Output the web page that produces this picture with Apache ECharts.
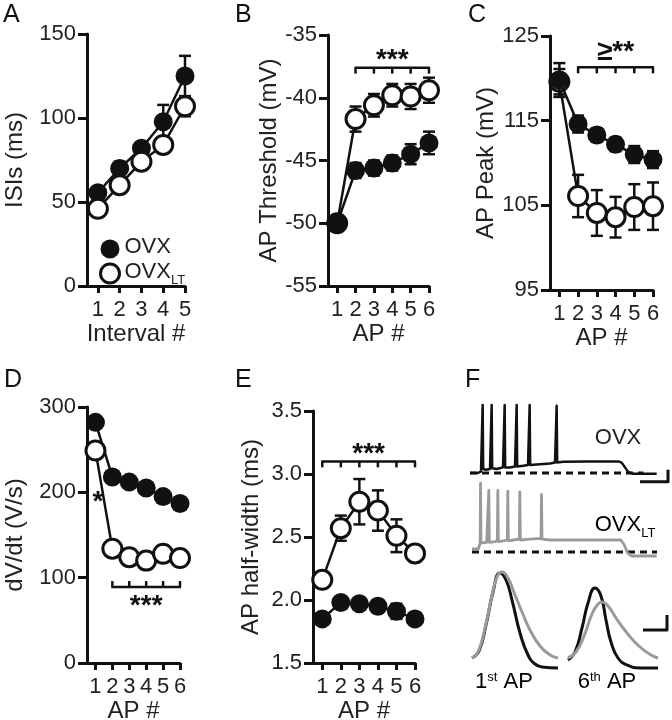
<!DOCTYPE html>
<html>
<head>
<meta charset="utf-8">
<script src="https://cdn.jsdelivr.net/npm/echarts@6/dist/echarts.min.js"></script>
<style>
  html, body { margin: 0; padding: 0; background: #fff; }
  #fig { width: 672px; height: 720px; }
</style>
</head>
<body>
<div id="fig"></div>
<script>
// ---- data ----
// A: inter-spike intervals (ms)
var isiOvx = [55.5, 70, 82, 97.8, 125];
var isiOvxSem = [3, 4, 3, 10, 12];
var isiLt = [46, 60, 74, 84, 107];
var isiLtSem = [2, 2, 2, 3, 6];
// B: AP threshold (mV)
var thrOvx = [-50, -45.8, -45.6, -45.2, -44.5, -43.6];
var thrOvxSem = [0.5, 0.6, 0.6, 0.6, 0.8, 0.9];
var thrLt = [-50, -41.7, -40.6, -39.8, -39.9, -39.4];
var thrLtSem = [0.5, 1.0, 0.9, 0.9, 1.0, 1.0];
// C: AP peak (mV)
var pkOvx = [119.8, 114.6, 113.3, 112.2, 111.0, 110.4];
var pkOvxSem = [2, 1, 0.8, 0.8, 1, 1];
var pkLt = [119.6, 106.1, 104.1, 103.6, 104.8, 104.9];
var pkLtSem = [1.5, 2.5, 2.7, 2.4, 2.7, 2.8];
// D: dV/dt (V/s)
var dvOvx = [282, 218, 212, 205, 195, 187];
var dvOvxSem = [5, 5, 5, 5, 5, 5];
var dvLt = [249, 134, 124, 120, 128, 123];
var dvLtSem = [5, 5, 5, 5, 5, 5];
// E: AP half-width (ms)
var hwOvx = [1.85, 1.98, 1.97, 1.95, 1.91, 1.85];
var hwOvxSem = [0.04, 0.04, 0.04, 0.05, 0.06, 0.05];
var hwLt = [2.16, 2.57, 2.78, 2.71, 2.51, 2.37];
var hwLtSem = [0.04, 0.1, 0.18, 0.16, 0.13, 0.05];

var ticks5 = [1, 2, 3, 4, 5];
var ticks6 = [1, 2, 3, 4, 5, 6];
var peakTicks = [95, 105, 115, 125];

// significance brackets: [from, to, level]
var sigB = [2, 6, -37.6];
var sigC = [2, 6, 121.3];
var sigD = [2, 6, 89];
var sigE = [1, 6, 3.1];
var starD = [1.15, 188];

// F: example traces, [time ms, mV]
var ovxTrace = [[0,-65],[48,-65],[66,-63],[73,-61],[76,20],[79,-60],[96,-61],[120,-60],[127,-59],[130,20],[133,-59],
  [160,-60],[198,-58],[205,-57],[208,20],[211,-58],[240,-58],[270,-57],[277,-56],[280,20],[283,-57],[320,-56],
  [348,-55],[355,-54],[358,20],[361,-55],[420,-54],[480,-53],[510,-52],[517,-51],[520,19],[523,-52],[560,-51],
  [700,-50.5],[890,-50.5],[910,-52],[930,-58],[950,-64],[980,-66],[1120,-66]];
var ovxLtTrace = [[12,-61],[50,-61],[58,-56],[61,-53],[63,21],[66,-54],[100,-53],[110,-52],[113,12],[116,-53],
  [150,-52],[164,-51],[167,12],[170,-52],[200,-51],[224,-50],[227,11],[230,-51],[260,-50],[296,-49],[299,10],
  [302,-50],[360,-49],[426,-48],[429,7],[432,-49],[480,-50],[700,-50],[905,-50],[925,-56],[945,-66],[970,-70],[1120,-70]];
var ovxRest = [[0,-65],[1040,-65]];
var ovxLtRest = [[12,-65],[1122,-65]];
var traceScale = [[1020,-76],[1188,-76],[1188,-61]];

var ap1Ovx = [[0.7,-60],[1.4,-53],[2.1,-27],[2.8,6],[3.5,25],[4.1,18],[4.7,-2],[5.5,-35],[6.3,-57],[7.0,-66],[7.7,-69],[9.3,-70]];
var ap1Lt = [[0.7,-60],[1.3,-54],[2.0,-30],[2.7,3],[3.2,21],[3.7,26],[4.3,20],[5.0,3],[5.7,-14],[6.5,-32],[7.5,-48],[8.5,-57],[9.3,-60]];
var ap6Ovx = [[10.3,-62],[11.0,-54],[11.7,-30],[12.3,-5],[13.0,10],[13.6,2],[14.1,-22],[14.6,-44],[15.3,-60],[16.2,-67],[17.5,-70],[19.3,-70]];
var ap6Lt = [[10.3,-60],[11.1,-54],[11.9,-38],[12.7,-16],[13.3,-6],[13.7,-4],[14.3,-8],[15.1,-20],[16.2,-35],[17.5,-49],[18.8,-58],[19.3,-60]];
var apScale = [[17.8,-32],[20.2,-32],[20.2,-17]];

// ---- helpers ----
var BLACK = '#111';
var GRAY = '#9a9a9a';
var FONT = '"Liberation Sans", Arial, Helvetica, sans-serif';

function pts(mean) { return mean.map(function (m, i) { return [i + 1, m]; }); }
function errs(mean, sem) { return mean.map(function (m, i) { return [i + 1, m - sem[i], m + sem[i]]; }); }

function renderErr(params, api) {
  var x = api.value(0);
  var hi = api.coord([x, api.value(2)]);
  var lo = api.coord([x, api.value(1)]);
  var st = { stroke: BLACK, lineWidth: 2.5 };
  return { type: 'group', children: [
    { type: 'line', shape: { x1: hi[0], y1: hi[1], x2: lo[0], y2: lo[1] }, style: st },
    { type: 'line', shape: { x1: hi[0] - 6, y1: hi[1], x2: hi[0] + 6, y2: hi[1] }, style: st },
    { type: 'line', shape: { x1: lo[0] - 6, y1: lo[1], x2: lo[0] + 6, y2: lo[1] }, style: st }
  ]};
}

function group(gi, name, mean, sem, filled, z) {
  return [
    { type: 'line', name: name, xAxisIndex: gi, yAxisIndex: gi, data: pts(mean), symbol: 'none',
      lineStyle: { color: BLACK, width: 2.5 }, z: z, silent: true },
    { type: 'custom', xAxisIndex: gi, yAxisIndex: gi, data: errs(mean, sem), renderItem: renderErr, z: z + 1, silent: true },
    { type: 'scatter', name: name, xAxisIndex: gi, yAxisIndex: gi, data: pts(mean), symbol: 'circle', symbolSize: 19,
      itemStyle: filled ? { color: BLACK, opacity: 1 } : { color: '#fff', borderColor: BLACK, borderWidth: 3, opacity: 1 },
      z: z + 2, silent: true }
  ];
}

// bracket with tick marks; dir 1 = ticks down / text above, -1 = ticks up / text below
function bracket(gi, sig, text, dir, dy) {
  return { type: 'custom', xAxisIndex: gi, yAxisIndex: gi, data: [sig], z: 20, silent: true,
    renderItem: function (params, api) {
      var a = api.coord([api.value(0), api.value(2)]);
      var b = api.coord([api.value(1), api.value(2)]);
      var st = { stroke: BLACK, lineWidth: 2.5 };
      var kids = [{ type: 'line', shape: { x1: a[0] - 1, y1: a[1], x2: b[0] + 1, y2: b[1] }, style: st }];
      for (var k = sig[0]; k <= sig[1]; k++) {
        var p = api.coord([k, sig[2]]);
        kids.push({ type: 'line', shape: { x1: p[0], y1: p[1], x2: p[0], y2: p[1] + dir * 6 }, style: st });
      }
      kids.push({ type: 'text', x: (a[0] + b[0]) / 2, y: a[1] + dy,
        style: { text: text, fontSize: 28, fontWeight: 'bold', fontFamily: FONT, fill: BLACK,
          align: 'center', verticalAlign: dir > 0 ? 'bottom' : 'middle' } });
      return { type: 'group', children: kids };
    }
  };
}

function star(gi, pos) {
  return { type: 'custom', xAxisIndex: gi, yAxisIndex: gi, data: [pos], z: 20, silent: true,
    renderItem: function (params, api) {
      var p = api.coord([api.value(0), api.value(1)]);
      return { type: 'text', x: p[0], y: p[1], style: { text: '*', fontSize: 28, fontWeight: 'bold',
        fontFamily: FONT, fill: BLACK, align: 'center', verticalAlign: 'middle' } };
    }
  };
}

function xAx(gi, max, ticks, name) {
  return { gridIndex: gi, type: 'value', min: 0.5, max: max,
    axisLine: { onZero: false, lineStyle: { color: BLACK, width: 3 } },
    axisTick: { length: 7, customValues: ticks, lineStyle: { color: BLACK, width: 3 } },
    axisLabel: { customValues: ticks, fontSize: 22, color: '#222', fontFamily: FONT, margin: 13 },
    splitLine: { show: false },
    name: name, nameLocation: 'middle', nameGap: 30,
    nameTextStyle: { fontSize: 24, color: '#222', fontFamily: FONT } };
}

function yAx(gi, min, max, extra, name, gap) {
  var ax = { gridIndex: gi, type: 'value', min: min, max: max,
    axisLine: { onZero: false, lineStyle: { color: BLACK, width: 3 } },
    axisTick: { length: 9, lineStyle: { color: BLACK, width: 3 } },
    axisLabel: { fontSize: 22, color: '#222', fontFamily: FONT, margin: 11 },
    splitLine: { show: false },
    name: name, nameLocation: 'middle', nameGap: gap,
    nameTextStyle: { fontSize: 24, color: '#222', fontFamily: FONT } };
  if (extra.interval) ax.interval = extra.interval;
  if (extra.ticks) { ax.axisTick.customValues = extra.ticks; ax.axisLabel.customValues = extra.ticks; }
  if (extra.fmt) ax.axisLabel.formatter = extra.fmt;
  return ax;
}

function hidden(gi, min, max) { return { gridIndex: gi, type: 'value', min: min, max: max, show: false }; }

function trace(gi, data, color, width, smooth, dashed, z) {
  return { type: 'line', xAxisIndex: gi, yAxisIndex: gi, data: data, symbol: 'none', smooth: smooth,
    lineStyle: { color: color, width: width, type: dashed ? [7, 5] : 'solid', join: 'round' }, z: z, silent: true };
}

var subRich = {
  a: { fontSize: 22, fontFamily: FONT, color: '#222', lineHeight: 26, verticalAlign: 'top' },
  b: { fontSize: 13, fontFamily: FONT, color: '#222', lineHeight: 13, verticalAlign: 'bottom' },
  s: { fontSize: 13, fontFamily: FONT, color: '#222', lineHeight: 13, verticalAlign: 'top' }
};

var myChart = echarts.init(document.getElementById('fig'), null, { renderer: 'canvas' });

var grids = [
  { left: 87, top: 34, width: 98, height: 252 },    // A
  { left: 328, top: 35, width: 101, height: 251 },  // B
  { left: 550, top: 36, width: 103, height: 254 },  // C
  { left: 87, top: 407, width: 93, height: 256 },   // D
  { left: 313, top: 411, width: 102, height: 252 }, // E
  { left: 465, top: 397, width: 207, height: 88 },  // F trace OVX
  { left: 465, top: 476, width: 207, height: 88 },  // F trace OVX_LT
  { left: 465, top: 560, width: 207, height: 120 }  // F AP shapes
].map(function (g) { g.outerBoundsMode = 'none'; g.containLabel = false; return g; });

var series = [].concat(
  group(0, 'OVX', isiOvx, isiOvxSem, true, 2),
  group(0, 'OVX_LT', isiLt, isiLtSem, false, 5),
  group(1, 'OVX_LT', thrLt, thrLtSem, false, 2),
  group(1, 'OVX', thrOvx, thrOvxSem, true, 5),
  group(2, 'OVX_LT', pkLt, pkLtSem, false, 2),
  group(2, 'OVX', pkOvx, pkOvxSem, true, 5),
  group(3, 'OVX', dvOvx, dvOvxSem, true, 2),
  group(3, 'OVX_LT', dvLt, dvLtSem, false, 5),
  group(4, 'OVX', hwOvx, hwOvxSem, true, 2),
  group(4, 'OVX_LT', hwLt, hwLtSem, false, 5),
  [
    bracket(1, sigB, '***', 1, 7),
    bracket(2, sigC, '≥**', 1, -1),
    bracket(3, sigD, '***', -1, 19),
    bracket(4, sigE, '***', 1, 7),
    star(3, starD),
    trace(5, ovxRest, BLACK, 3, false, true, 2),
    trace(5, ovxTrace, BLACK, 2.5, false, false, 3),
    trace(5, traceScale, BLACK, 3, false, false, 3),
    trace(6, ovxLtRest, BLACK, 3, false, true, 2),
    trace(6, ovxLtTrace, GRAY, 2.8, false, false, 3),
    trace(7, ap1Ovx, BLACK, 3, true, false, 2),
    trace(7, ap1Lt, GRAY, 3, true, false, 3),
    trace(7, ap6Ovx, BLACK, 3, true, false, 2),
    trace(7, ap6Lt, GRAY, 3, true, false, 3),
    trace(7, apScale, BLACK, 3, false, false, 3)
  ]
);

var option = {
  animation: false,
  backgroundColor: '#fff',
  textStyle: { fontFamily: FONT },
  grid: grids,
  xAxis: [
    xAx(0, 5, ticks5, 'Interval #'),
    xAx(1, 6, ticks6, 'AP #'),
    xAx(2, 6, ticks6, 'AP #'),
    xAx(3, 6, ticks6, 'AP #'),
    xAx(4, 6, ticks6, 'AP #'),
    hidden(5, -30, 1212),
    hidden(6, -30, 1212),
    hidden(7, 0, 20.7)
  ],
  yAxis: [
    yAx(0, 0, 150, { interval: 50 }, 'ISIs (ms)', 60),
    yAx(1, -55, -35, { interval: 5 }, 'AP Threshold (mV)', 41),
    yAx(2, 95, 125, { ticks: peakTicks }, 'AP Peak (mV)', 48),
    yAx(3, 0, 300, { interval: 100 }, 'dV/dt (V/s)', 60),
    yAx(4, 1.5, 3.5, { interval: 0.5, fmt: function (v) { return v.toFixed(1); } }, 'AP half-width (ms)', 50),
    hidden(5, -80, 30),
    hidden(6, -80, 30),
    hidden(7, -82, 38)
  ],
  legend: {
    left: 94, top: 231, orient: 'vertical', itemGap: 2, itemWidth: 19, itemHeight: 19,
    selectedMode: false,
    data: [
      { name: 'OVX', icon: 'circle', itemStyle: { color: BLACK, borderWidth: 0 } },
      { name: 'OVX_LT', icon: 'circle', itemStyle: { color: '#fff', borderColor: BLACK, borderWidth: 3 } }
    ],
    formatter: function (n) { return n === 'OVX_LT' ? '{a|OVX}{b|LT}' : '{a|OVX}'; },
    textStyle: { rich: subRich }
  },
  graphic: [
    { type: 'text', left: 3, top: 3, style: { text: 'A', fontSize: 25, fontFamily: FONT, fill: '#111' } },
    { type: 'text', left: 235, top: 3, style: { text: 'B', fontSize: 25, fontFamily: FONT, fill: '#111' } },
    { type: 'text', left: 468, top: 3, style: { text: 'C', fontSize: 25, fontFamily: FONT, fill: '#111' } },
    { type: 'text', left: 4, top: 368, style: { text: 'D', fontSize: 25, fontFamily: FONT, fill: '#111' } },
    { type: 'text', left: 235, top: 368, style: { text: 'E', fontSize: 25, fontFamily: FONT, fill: '#111' } },
    { type: 'text', left: 465, top: 368, style: { text: 'F', fontSize: 25, fontFamily: FONT, fill: '#111' } },
    { type: 'text', x: 618, y: 438, style: { text: 'OVX', fontSize: 22, fontFamily: FONT, fill: '#222',
        align: 'center', verticalAlign: 'middle' } },
    { type: 'text', x: 625, y: 527, style: { text: '{a|OVX}{b|LT}', rich: subRich, align: 'center', verticalAlign: 'middle' } },
    { type: 'text', x: 504, y: 684, style: { text: '{a|1}{s|st}{a| AP}', rich: subRich, align: 'center', verticalAlign: 'middle' } },
    { type: 'text', x: 607, y: 684, style: { text: '{a|6}{s|th}{a| AP}', rich: subRich, align: 'center', verticalAlign: 'middle' } }
  ],
  series: series
};

myChart.setOption(option);
</script>
</body>
</html>
